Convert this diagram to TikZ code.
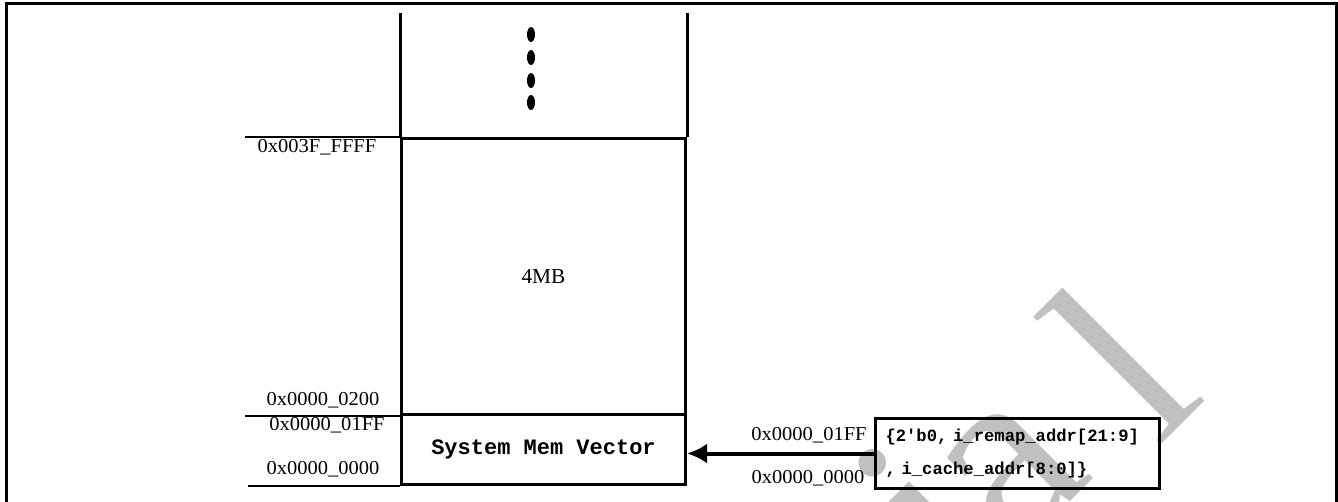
\documentclass[tikz,border=0pt]{standalone}
\usepackage{fontspec}
\usepackage{graphicx}
\setmainfont{Liberation Serif}
\setmonofont{Liberation Mono}
\usetikzlibrary{arrows.meta}
\definecolor{wmgray}{RGB}{192,192,192}
\newcommand\addrtxt[1]{\scalebox{1.04}[1]{#1}}
\begin{document}
\begin{tikzpicture}[x=0.75pt,y=-0.75pt,
  frameline/.style={line width=2.25pt},
  memblock/.style={draw, line width=2.25pt, minimum width=213pt, inner sep=0pt, anchor=north west},
  tickline/.style={line width=1pt},
  addr/.style={inner sep=0pt, font=\fontsize{14.8}{16}\selectfont},
  dotmark/.style={fill=black},
  wmletter/.style={text=wmgray, font=\fontsize{195}{195}\selectfont, rotate=45, anchor=base, inner sep=0pt},
  regbox/.style={draw, line width=2.25pt, anchor=north west, minimum width=213pt, minimum height=52.5pt,
    text width=198pt, inner xsep=7.5pt, inner ysep=0pt, align=left,
    font=\ttfamily\bfseries\fontsize{12.9}{24.75}\selectfont},
  arrowline/.style={line width=3pt, -{Latex[length=15pt,width=15pt]}}
]
\useasboundingbox (0,0) rectangle (1338,502);
% watermark
\begin{scope}
\clip (0,0) rectangle (1338,502);
\node[wmletter] (wmi) at (986,574) {i};
\node[wmletter] (wma) at (1055,517) {a};
\node[wmletter] (wml) at (1183,423) {l};
\end{scope}
% frame
\draw[frameline] (6,502) -- (6,4) -- (1336,4) -- (1336,502);
% memory column
\node[memblock, minimum height=207pt] (mb) at (400,137) {\fontsize{16}{18}\selectfont 4MB};
\node[memblock, minimum height=52.5pt] (smv) at (400,413) {\ttfamily\bfseries\fontsize{16.5}{18}\selectfont System Mem Vector};
\draw[frameline] (mb.north west) -- ++(0,-124);
\draw[frameline] (mb.north east) -- ++(0,-124);
\foreach \yy in {34.5,57.5,80.5,102.5}
  \fill[dotmark] (531,\yy) ellipse [x radius=4, y radius=7.5];
% tick lines
\draw[tickline] (mb.north west) -- ++(-155,0);
\draw[tickline] (mb.south west) -- ++(-155,0);
\draw[tickline] (smv.south west) -- ++(-152,0);
% address labels
\node[addr] (a1) at (317,147) {\addrtxt{0x003F\_FFFF}};
\node[addr] (a2) at (323,400) {\addrtxt{0x0000\_0200}};
\node[addr] (a3) at (327,425) {\addrtxt{0x0000\_01FF}};
\node[addr] (a4) at (323,469) {\addrtxt{0x0000\_0000}};
% register box
\node[regbox] (reg) at (874,417) {\{2'b0, i\_remap\_addr[21:9]\\, i\_cache\_addr[8:0]\}};
\draw[arrowline] (reg.west) -- (smv.east |- reg.west);
\node[addr] (a5) at (809,435) {\addrtxt{0x0000\_01FF}};
\node[addr] (a6) at (808,478) {\addrtxt{0x0000\_0000}};
\end{tikzpicture}
\end{document}
